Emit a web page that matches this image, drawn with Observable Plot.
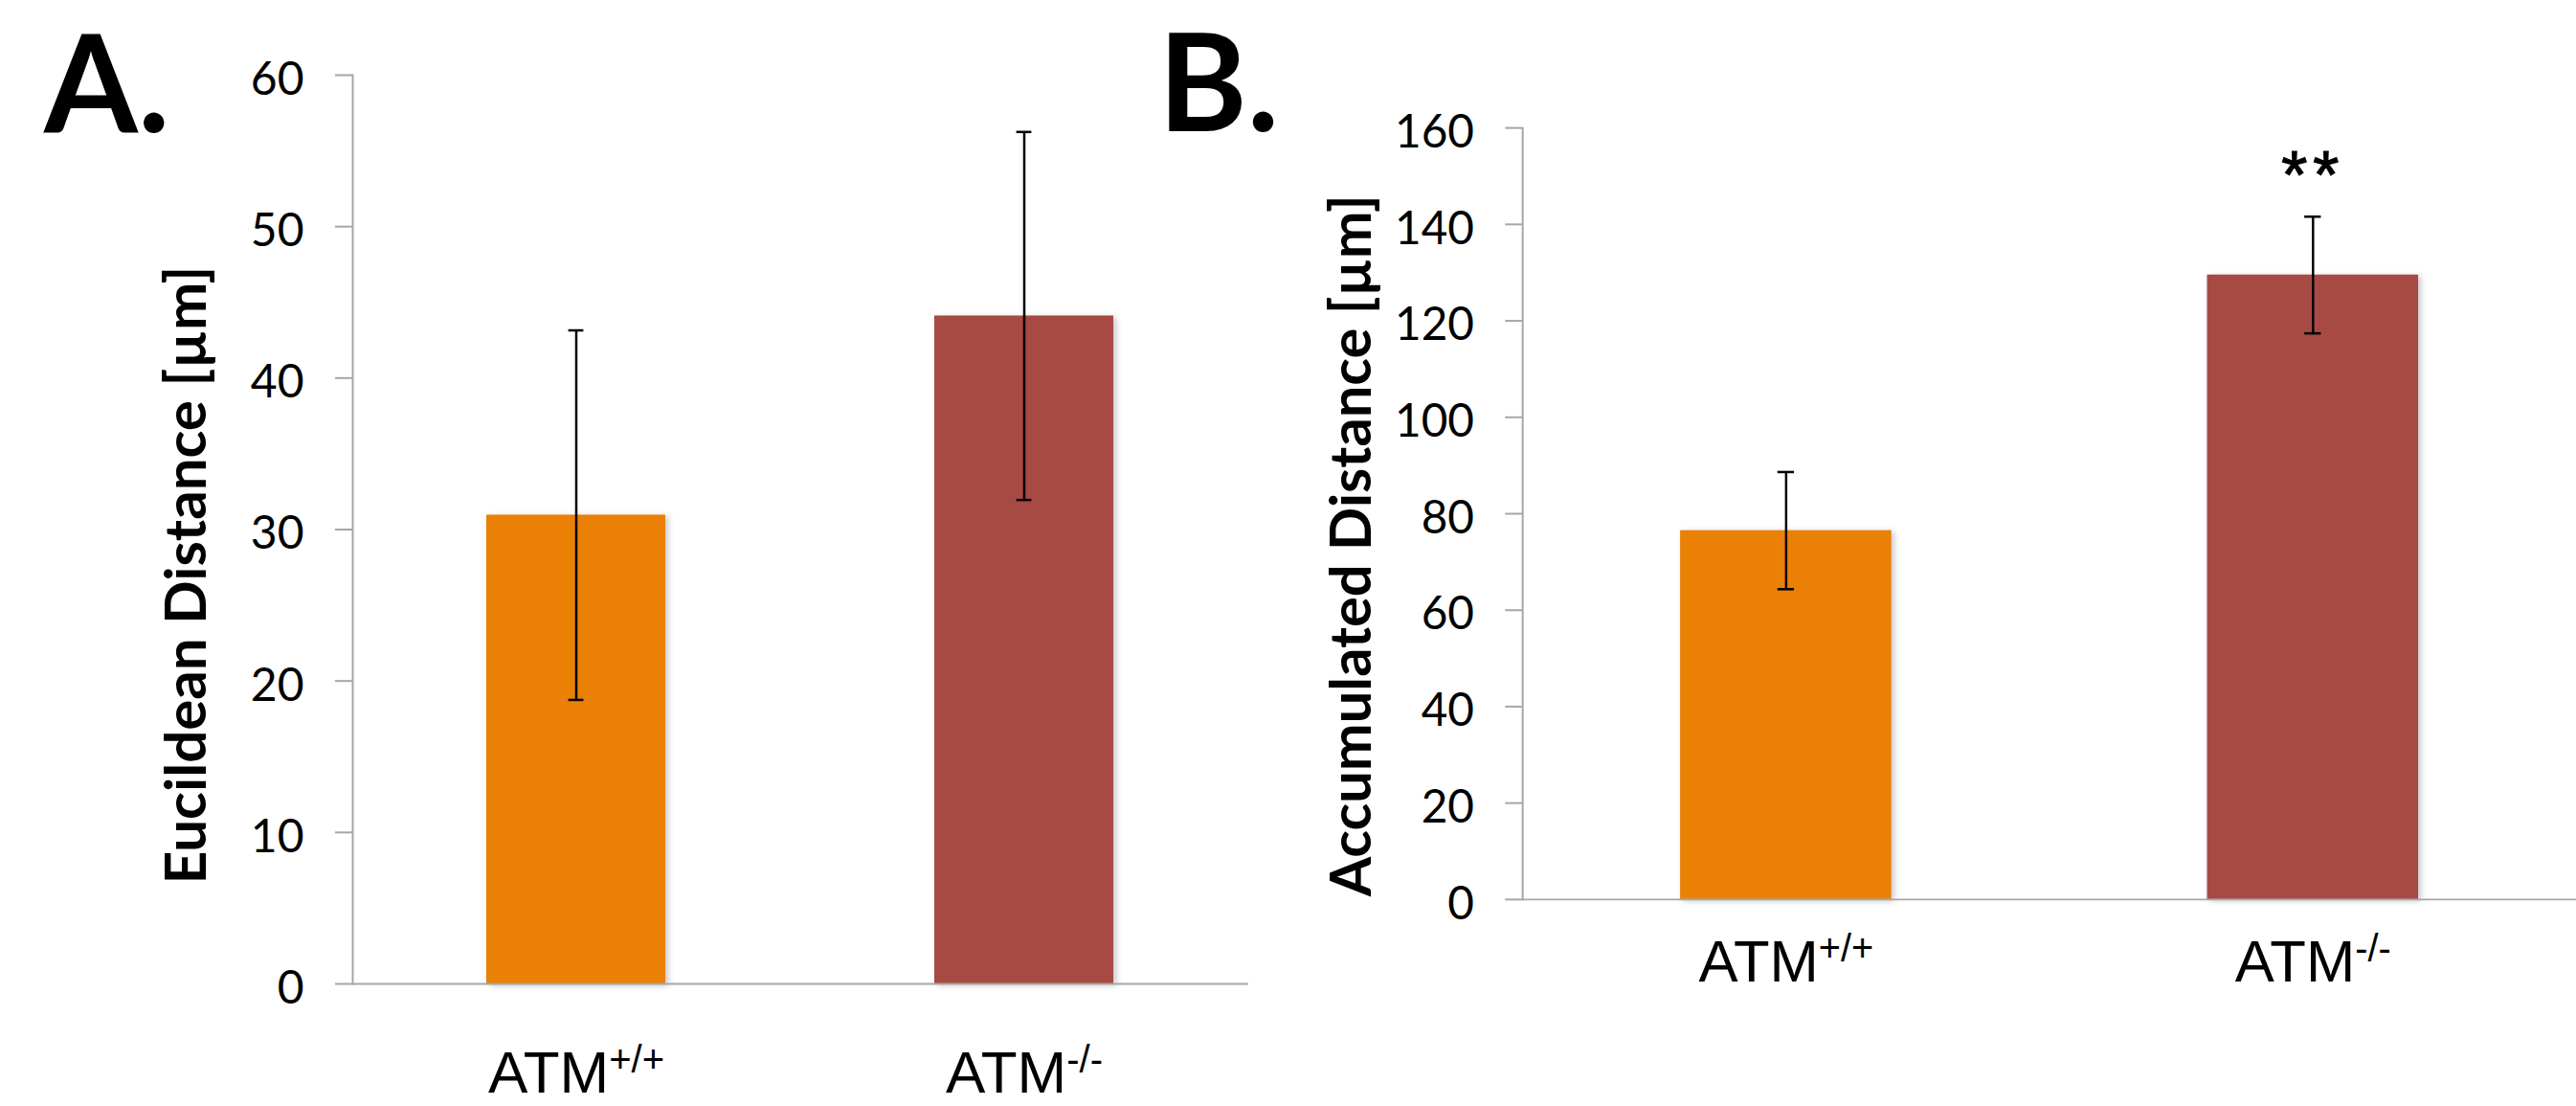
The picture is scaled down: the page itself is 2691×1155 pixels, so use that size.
<!DOCTYPE html>
<html><head><meta charset="utf-8">
<script src="https://cdn.jsdelivr.net/npm/d3@7"></script>
<script src="https://cdn.jsdelivr.net/npm/@observablehq/plot@0.6"></script>
<style>
html,body{margin:0;padding:0;background:#fff;overflow:hidden;}
#wrap{position:relative;width:2691px;height:1155px;overflow:hidden;}
#panelA,#panelB,#letters{position:absolute;top:0;}
#panelA{left:0}
#panelB{left:1310px}
#letters{left:0;pointer-events:none}
</style></head><body>
<div id="wrap">
<div id="panelA"></div>
<div id="panelB"></div>
<svg id="letters" width="2691" height="1155">
  <text x="46" y="138" font-family="Lato" font-weight="bold" font-size="141" fill="#000">A.</text>
  <text x="1210" y="137" font-family="Lato" font-weight="bold" font-size="141" fill="#000">B.</text>
</svg>
</div>
<script>
// ---- data ----
const categories = ["ATM+/+", "ATM-/-"];
const barColors = ["#EA8006", "#A74A44"];
const euclideanMean = [30.95, 44.1];
const euclideanErr = [12.2, 12.15];
const accumulatedMean = [76.5, 129.5];
const accumulatedErr = [12.15, 12.1];
const euclideanSignificance = ["", ""];
const accumulatedSignificance = ["", "**"];
const euclideanTicks = [0, 10, 20, 30, 40, 50, 60];
const accumulatedTicks = [0, 20, 40, 60, 80, 100, 120, 140, 160];
const euclideanLabel = "Eucildean Distance [µm]";
const accumulatedLabel = "Accumulated Distance [µm]";

const grey = "#A6A6A6";

function panel(cfg) {
  const rows = categories.map((c, i) => ({
    cat: c, value: cfg.mean[i], lo: cfg.mean[i] - cfg.err[i], hi: cfg.mean[i] + cfg.err[i],
    color: barColors[i], sig: cfg.sig[i]
  }));
  const height = 1155;
  const step = (cfg.width - cfg.marginLeft) / categories.length;
  const bw = step * 0.4;
  const inset = (bw - cfg.capWidth) / 2;
  const plot = Plot.plot({
    width: cfg.width, height,
    marginLeft: cfg.marginLeft, marginRight: 0, marginTop: cfg.marginTop, marginBottom: cfg.marginBottom,
    style: {background: "white", overflow: "visible"},
    x: {domain: categories, paddingInner: 0.6, paddingOuter: 0.3, axis: null},
    y: {domain: [0, cfg.yMax], nice: false},
    color: {type: "identity"},
    marks: [
      Plot.barY(rows, {x: "cat", y: "value", fill: "color"}),
      Plot.ruleY([0], {stroke: grey, strokeWidth: 2}),
      Plot.frame({anchor: "left", stroke: grey, strokeWidth: 2}),
      Plot.axisY(cfg.ticks, {tickSize: 18, stroke: grey, strokeWidth: 2, fill: "none", label: null}),
      Plot.axisY(cfg.ticks, {tickSize: 18, tickPadding: 33, stroke: "none", fill: "black", fontSize: 48, fontFamily: "Lato", dy: 5, label: null}),
      Plot.ruleX(rows, {x: "cat", y1: "lo", y2: "hi", stroke: "black", strokeWidth: 2.5}),
      Plot.tickY(rows, {x: "cat", y: "lo", insetLeft: inset, insetRight: inset, stroke: "black", strokeWidth: 2.5}),
      Plot.tickY(rows, {x: "cat", y: "hi", insetLeft: inset, insetRight: inset, stroke: "black", strokeWidth: 2.5}),
      Plot.text(rows.filter(d => d.sig), {x: "cat", y: "hi", text: "sig", dy: -42, fontSize: 70, fontFamily: "Liberation Sans", fill: "black"}),
      Plot.text(rows, {x: "cat", frameAnchor: "bottom", text: "cat", lineAnchor: "top", dy: cfg.catDy, fontSize: 62, fontFamily: "Liberation Sans", fill: "black"}),
      Plot.text([cfg.label], {frameAnchor: "left", textAnchor: "middle", rotate: -90, lineAnchor: "top", dx: cfg.labelDx, dy: cfg.labelDy, fontSize: 60, fontWeight: "bold", fontFamily: "Lato", fill: "black"})
    ]
  });
  // bar shadows
  d3.select(plot).selectAll("g[aria-label='bar'] rect").style("filter", "drop-shadow(3px 2px 3px rgba(0,0,0,0.22))");
  // superscripts in category labels, spacing for significance stars
  d3.select(plot).selectAll("text").each(function() {
    const t = this.textContent;
    if (/^ATM.+/.test(t)) {
      const sel = d3.select(this);
      sel.text(null);
      sel.append("tspan").text("ATM");
      sel.append("tspan").attr("dy", -21).attr("font-size", 40).text(t.slice(3));
    } else if (t === "**") {
      d3.select(this).attr("letter-spacing", 6).attr("stroke", "black").attr("stroke-width", 1.2);
    }
  });
  return plot;
}

document.getElementById("panelA").append(panel({
  mean: euclideanMean, err: euclideanErr, sig: euclideanSignificance, ticks: euclideanTicks, yMax: 60, label: euclideanLabel,
  width: 1304, marginLeft: 368, marginTop: 78, marginBottom: 128, capWidth: 16,
  catDy: 69, labelDx: -196, labelDy: 47.5
}));
document.getElementById("panelB").append(panel({
  mean: accumulatedMean, err: accumulatedErr, sig: accumulatedSignificance, ticks: accumulatedTicks, yMax: 160, label: accumulatedLabel,
  width: 1390, marginLeft: 282, marginTop: 134, marginBottom: 210, capWidth: 17,
  catDy: 42, labelDx: -202, labelDy: 33.5
}));
</script>
</body></html>
